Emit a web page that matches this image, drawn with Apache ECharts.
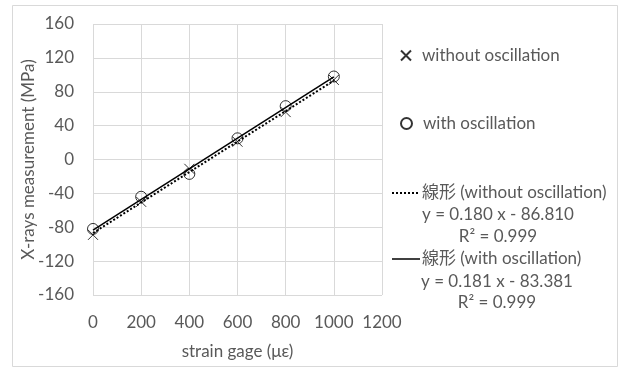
<!DOCTYPE html>
<html>
<head>
<meta charset="utf-8">
<script src="https://cdn.jsdelivr.net/npm/echarts@6/dist/echarts.min.js"></script>
<style>
  html, body { margin: 0; padding: 0; background: #fff; }
  #chart { width: 629px; height: 371px; }
</style>
</head>
<body>
<div id="chart"></div>
<script>
// Strain gage readings (με) and X-ray stress measurements (MPa)
const strain = [0, 200, 400, 600, 800, 1000];
const withoutOscillation = [-89, -50, -11, 21, 56, 94];
const withOscillation = [-82, -44, -17, 25, 63, 98];

// Linear trendlines: y = slope * x + intercept
const fitSlope = [0.180, 0.181];
const fitIntercept = [-86.810, -83.381];
const fitR2 = [0.999, 0.999];
const fitRange = [0, 1000];

const seriesNames = ['without oscillation', 'with oscillation'];

const yMin = -160, yMax = 160, yStep = 40;
const xMin = 0, xMax = 1200, xStep = 200;

const FONT = 'Lato, "Noto Sans CJK JP", sans-serif';
const TEXT = '#595959';
const GRID = '#d9d9d9';

const pairs = (xs, ys) => xs.map((x, i) => [x, ys[i]]);
const fitLine = k => fitRange.map(x => [x, fitSlope[k] * x + fitIntercept[k]]);
const eqText = k => 'y = ' + fitSlope[k].toFixed(3) + ' x - ' + Math.abs(fitIntercept[k]).toFixed(3);
const r2Text = k => 'R² = ' + fitR2[k].toFixed(3);

const crossPath = 'path://M0,0L10,10M10,0L0,10';

const chart = echarts.init(document.getElementById('chart'));

const legendText = { color: TEXT, fontFamily: FONT, fontSize: 17, padding: [0, 0, 0, 6] };
const legFont = '17px ' + FONT;

chart.setOption({
  animation: false,
  backgroundColor: '#fff',
  grid: { left: 93, top: 24, right: 247, bottom: 76 },
  legend: [
    {
      data: [{ name: seriesNames[0], icon: crossPath }],
      left: 395, top: 42, itemWidth: 10, itemHeight: 10,
      textStyle: legendText, selectedMode: false
    },
    {
      data: [{ name: seriesNames[1], icon: 'circle' }],
      left: 395, top: 110, itemWidth: 11, itemHeight: 11,
      textStyle: legendText, selectedMode: false
    }
  ],
  xAxis: {
    type: 'value', min: xMin, max: xMax, interval: xStep,
    name: 'strain gage (με)', nameLocation: 'middle', nameGap: 48,
    nameMoveOverlap: false,
    nameTextStyle: { color: TEXT, fontFamily: FONT, fontSize: 17 },
    axisLine: { show: false }, axisTick: { show: false },
    axisLabel: { color: TEXT, fontFamily: FONT, fontSize: 17, margin: 19, formatter: v => String(v) },
    splitLine: { show: true, lineStyle: { color: GRID, width: 1 } }
  },
  yAxis: {
    type: 'value', min: yMin, max: yMax, interval: yStep,
    name: 'X-rays measurement (MPa)', nameLocation: 'middle', nameGap: 56,
    nameMoveOverlap: false,
    nameTextStyle: { color: TEXT, fontFamily: FONT, fontSize: 17 },
    axisLine: { show: false }, axisTick: { show: false },
    axisLabel: { color: TEXT, fontFamily: FONT, fontSize: 17, margin: 19, formatter: v => String(v) },
    splitLine: { show: true, lineStyle: { color: GRID, width: 1 } }
  },
  series: [
    {
      name: seriesNames[0], type: 'scatter', data: pairs(strain, withoutOscillation),
      symbol: crossPath, symbolSize: 10,
      itemStyle: { color: 'transparent', borderColor: '#000', borderWidth: 1 }, z: 3
    },
    {
      name: seriesNames[1], type: 'scatter', data: pairs(strain, withOscillation),
      symbol: 'circle', symbolSize: 11,
      itemStyle: { color: 'transparent', borderColor: '#000', borderWidth: 1 }, z: 3
    },
    {
      name: '線形 (' + seriesNames[0] + ')', type: 'line', data: fitLine(0),
      symbol: 'none', silent: true,
      lineStyle: { color: '#000', width: 2, type: [2, 2] }, z: 4
    },
    {
      name: '線形 (' + seriesNames[1] + ')', type: 'line', data: fitLine(1),
      symbol: 'none', silent: true,
      lineStyle: { color: '#000', width: 1.5 }, z: 4
    }
  ],
  graphic: [
    {
      type: 'rect', shape: { x: 12.5, y: 5.5, width: 605, height: 361 },
      style: { fill: 'none', stroke: GRID, lineWidth: 1 }, z: -1, silent: true
    },
    // trendline legend: dotted entry
    { type: 'line', shape: { x1: 392, y1: 193, x2: 420, y2: 193 },
      style: { stroke: '#000', lineWidth: 2, lineDash: [2, 2] } },
    { type: 'text', style: { text: '線形 (' + seriesNames[0] + ')', x: 422, y: 193, verticalAlign: 'middle', fill: TEXT, font: legFont } },
    { type: 'text', style: { text: eqText(0), x: 498, y: 215, align: 'center', verticalAlign: 'middle', fill: TEXT, font: legFont } },
    { type: 'text', style: { text: r2Text(0), x: 498, y: 237, align: 'center', verticalAlign: 'middle', fill: TEXT, font: legFont } },
    // trendline legend: solid entry
    { type: 'line', shape: { x1: 392, y1: 259, x2: 420, y2: 259 },
      style: { stroke: '#000', lineWidth: 1.5 } },
    { type: 'text', style: { text: '線形 (' + seriesNames[1] + ')', x: 422, y: 259, verticalAlign: 'middle', fill: TEXT, font: legFont } },
    { type: 'text', style: { text: eqText(1), x: 497, y: 282, align: 'center', verticalAlign: 'middle', fill: TEXT, font: legFont } },
    { type: 'text', style: { text: r2Text(1), x: 497, y: 303, align: 'center', verticalAlign: 'middle', fill: TEXT, font: legFont } }
  ]
});
</script>
</body>
</html>
